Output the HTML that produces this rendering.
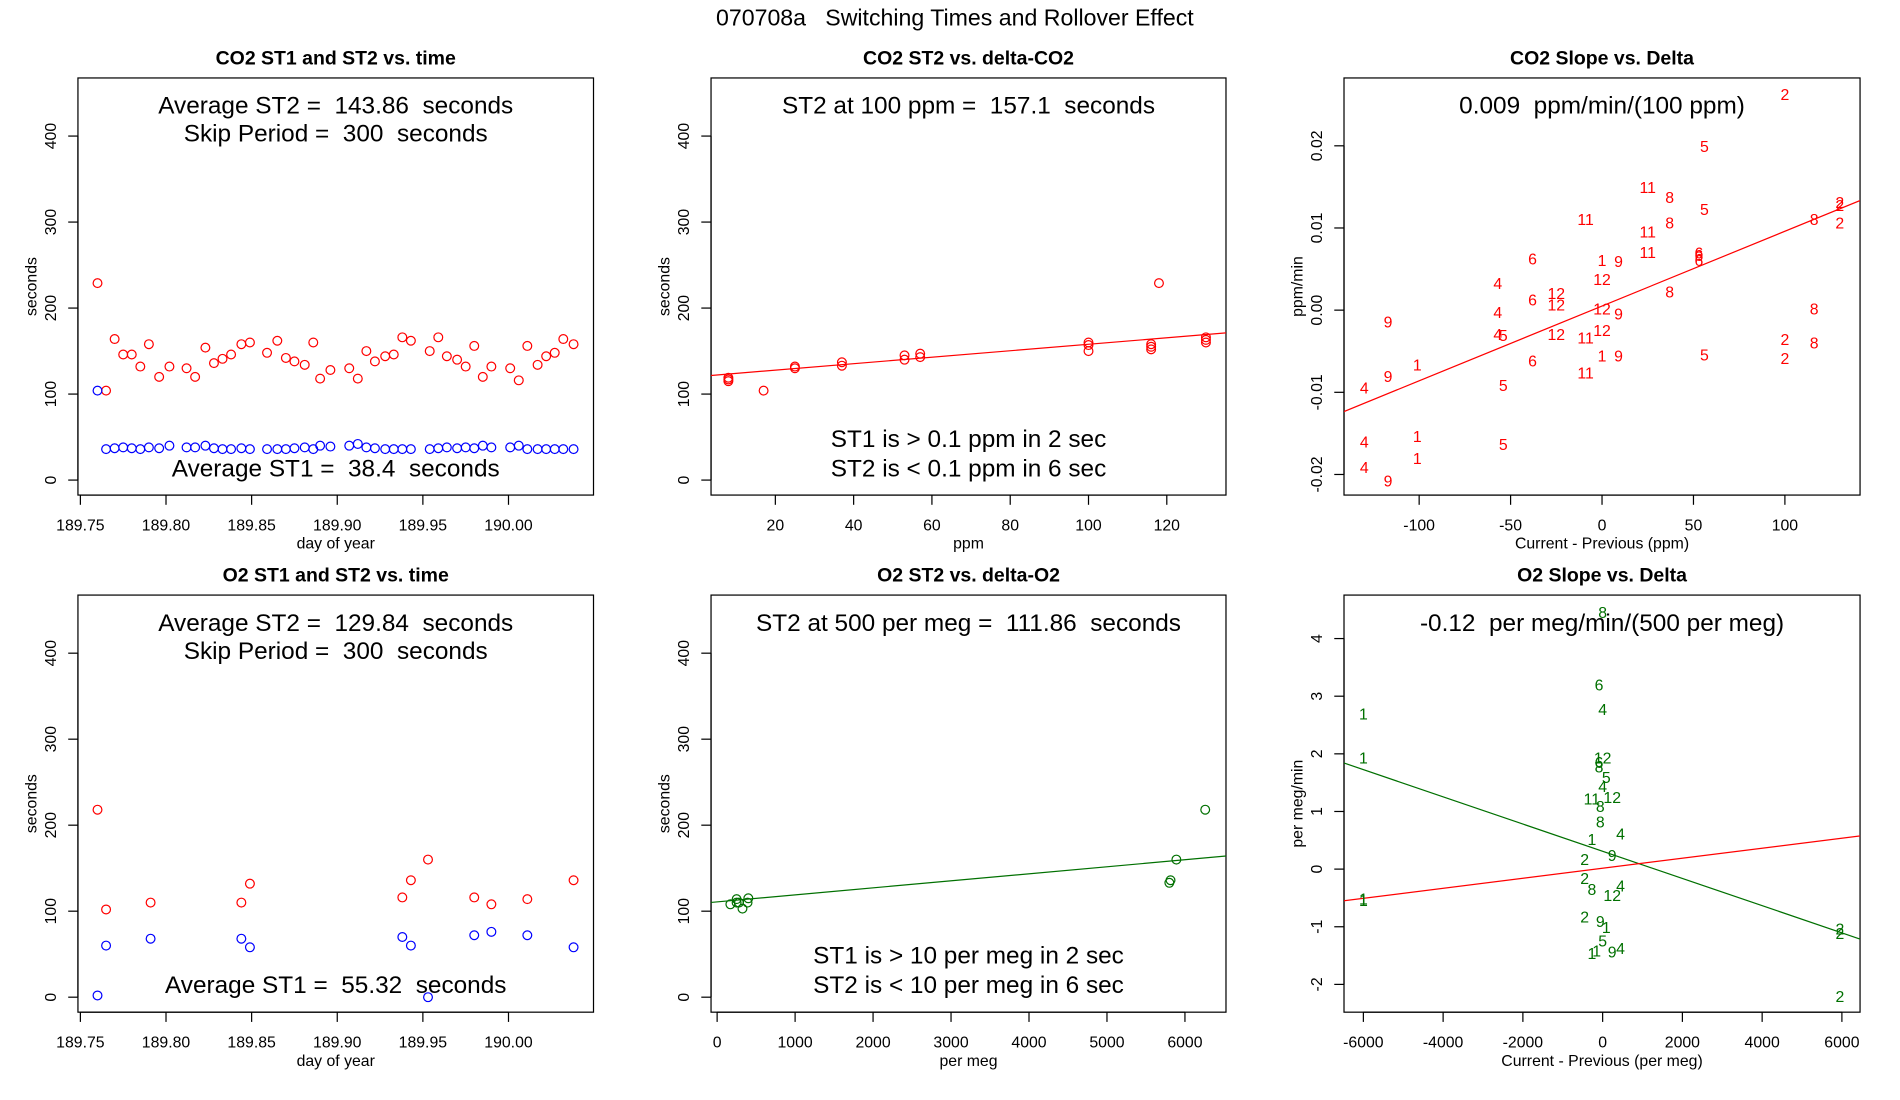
<!DOCTYPE html>
<html><head><meta charset="utf-8"><style>
html,body{margin:0;padding:0;background:#fff}
svg{display:block;font-family:"Liberation Sans",Arial,sans-serif}
</style></head><body>
<svg id="chart" width="1900" height="1100" viewBox="0 0 1560 903" preserveAspectRatio="none" xmlns="http://www.w3.org/2000/svg"></svg>
<script>
// ---- Data ----
const co2Days = [189.760,189.765,189.770,189.775,189.780,189.785,189.790,189.796,189.802,189.812,189.817,189.823,189.828,189.833,189.838,189.844,189.849,189.859,189.865,189.870,189.875,189.881,189.886,189.890,189.896,189.907,189.912,189.917,189.922,189.928,189.933,189.938,189.943,189.954,189.959,189.964,189.970,189.975,189.980,189.985,189.990,190.001,190.006,190.011,190.017,190.022,190.027,190.032,190.038];
const co2ST2 = [229,104,164,146,146,132,158,120,132,130,120,154,136,141,146,158,160,148,162,142,138,134,160,118,128,130,118,150,138,144,146,166,162,150,166,144,140,132,156,120,132,130,116,156,134,144,148,164,158];
const co2ST1 = [104,36,37,38,37,36,38,37,40,38,38,40,37,36,36,37,36,36,36,36,37,38,36,40,39,40,42,38,37,36,36,36,36,36,37,38,37,38,37,40,38,38,40,36,36,36,36,36,36];
const co2DeltaPpm = [8,8,8,17,25,25,37,37,53,53,57,57,100,100,100,116,116,116,118,130,130,130];
const co2DeltaST2 = [115,117,119,104,130,132,133,137,140,145,143,147,150,157,160,152,155,158,229,160,163,166];
const co2FitSlope = 0.376, co2FitIntercept = 120.3;
const co2SlopeLabels = ["2","5","11","8","5","11","8","11","2","2","8","2","11","6","6","6","6","1","9","12","4","12","6","12","8","12","9","4","8","12","9","4","5","12","11","2","8","2","6","1","9","5","11","1","9","5","4","1","4","5","1","4","9"];
const co2SlopeX = [100,56,25,37,56,-9,37,25,130,130,116,130,25,53,53,53,-38,0,9,0,-57,-25,-38,-25,37,0,9,-57,116,0,-117,-57,-54,-25,-9,100,116,100,-38,0,9,56,-9,-101,-117,-54,-130,-101,-130,-54,-101,-130,-117];
const co2SlopeY = [0.0263,0.020,0.0150,0.0138,0.0123,0.0111,0.0107,0.0096,0.0132,0.0128,0.0111,0.0107,0.0071,0.0070,0.0067,0.0061,0.0063,0.0061,0.0060,0.0038,0.0033,0.0021,0.0013,0.0007,0.0023,0.0002,-0.0004,-0.0002,0.0002,-0.0024,-0.0014,-0.0029,-0.0030,-0.0029,-0.0033,-0.0035,-0.0039,-0.0058,-0.0061,-0.0055,-0.0055,-0.0054,-0.0076,-0.0066,-0.0080,-0.0091,-0.0094,-0.0153,-0.0160,-0.0163,-0.0180,-0.0191,-0.0207];
const co2SlopeFitM = 0.000091, co2SlopeFitB = 0.0005;

const o2Days = [189.760,189.765,189.791,189.844,189.849,189.938,189.943,189.953,189.980,189.990,190.011,190.038];
const o2ST2 = [218,102,110,110,132,116,136,160,116,108,114,136];
const o2ST1 = [2,60,68,68,58,70,60,0,72,76,72,58];
const o2DeltaPm = [170,250,250,280,325,390,400,5800,5815,5890,6260];
const o2DeltaST2 = [108,110,114,110,103,110,115,133,136,160,218];
const o2FitSlope = 0.00817, o2FitIntercept = 110.8;
const o2SlopeLabels = ["8","6","4","1","1","12","6","8","5","4","11","12","8","8","4","1","2","9","2","8","4","12","2","9","1","5","4","9","1","1","2","2","2","1","1"];
const o2SlopeX = [0,-90,0,-6000,-6000,0,-90,-90,90,0,-270,240,-60,-60,450,-270,-450,240,-450,-270,450,240,-450,-60,90,0,450,240,-270,-150,5950,5950,5950,-6000,-6000];
const o2SlopeY = [4.46,3.2,2.78,2.7,1.94,1.94,1.86,1.78,1.6,1.44,1.23,1.25,1.1,0.83,0.62,0.52,0.18,0.25,-0.15,-0.34,-0.28,-0.45,-0.82,-0.9,-1.0,-1.24,-1.37,-1.43,-1.45,-1.41,-1.03,-1.11,-2.2,-0.53,-0.51];
const o2GreenM = -0.000236, o2GreenB = 0.31;
const o2RedM = 0.000087, o2RedB = 0.015;

const secTicks = [0,100,200,300,400];
const dayTicks = [189.75,189.80,189.85,189.90,189.95,190.00];
const ppmTicks = [20,40,60,80,100,120];
const co2SlopeXTicks = [-100,-50,0,50,100];
const co2SlopeYTicks = [-0.02,-0.01,0.00,0.01,0.02];
const pmTicks = [0,1000,2000,3000,4000,5000,6000];
const o2SlopeXTicks = [-6000,-4000,-2000,0,2000,4000,6000];
const o2SlopeYTicks = [-2,-1,0,1,2,3,4];

// ---- Rendering ----
const svg = document.getElementById('chart');
const NS = 'http://www.w3.org/2000/svg';
function mk(tag, attrs, parent, text){
  const e = document.createElementNS(NS, tag);
  for (const k in attrs) e.setAttribute(k, attrs[k]);
  if (text !== undefined) e.textContent = text;
  (parent || svg).appendChild(e);
  return e;
}
function lin(d0,d1,r0,r1){ return v => r0 + (v-d0)*(r1-r0)/(d1-d0); }
function fmt(v, dec){ return v.toFixed(dec); }

function panel(o){
  const g = mk('g', {});
  
  
  const sx = lin(o.xd[0], o.xd[1], o.xr[0], o.xr[1]);
  const sy = lin(o.yd[0], o.yd[1], o.yr[0], o.yr[1]);
  const t = mk('text', {x:(o.box[0]+o.box[2])/2, y:o.box[1]-11, 'text-anchor':'middle','font-size':16,'font-weight':'bold'}, g, o.title);
  
  
  const r = mk('rect', {x:o.box[0], y:o.box[1], width:o.box[2]-o.box[0], height:o.box[3]-o.box[1], fill:'none', stroke:'#000', 'stroke-width':1}, g);
  
  
  const ax = mk('g', {}, g);
  
  
  const ay0 = o.box[3];
  mk('line', {x1:sx(o.xt[0]), x2:sx(o.xt[o.xt.length-1]), y1:ay0, y2:ay0, stroke:'#000'}, ax);
  o.xt.forEach(v => {
    mk('line', {x1:sx(v), x2:sx(v), y1:ay0, y2:ay0+8, stroke:'#000'}, ax);
    const tl = mk('text', {x:sx(v), y:ay0+29, 'text-anchor':'middle','font-size':13}, ax, fmt(v, o.xdec));
    
    
  });
  const xl = mk('text', {x:(o.box[0]+o.box[2])/2, y:o.box[3]+44, 'text-anchor':'middle','font-size':13}, g, o.xlabel);
  
  
  const ayg = mk('g', {}, g);
  
  
  const ax0 = o.box[0];
  mk('line', {x1:ax0, x2:ax0, y1:sy(o.yt[0]), y2:sy(o.yt[o.yt.length-1]), stroke:'#000'}, ayg);
  o.yt.forEach(v => {
    mk('line', {x1:ax0-8, x2:ax0, y1:sy(v), y2:sy(v), stroke:'#000'}, ayg);
    const tx = ax0-18;
    const tl = mk('text', {x:tx, y:sy(v), 'text-anchor':'middle','font-size':13, transform:`rotate(-90 ${tx} ${sy(v)})`}, ayg, fmt(v, o.ydec));
    
    
  });
  const cy = (o.box[1]+o.box[3])/2;
  const lx = o.box[0]-34;
  const yl = mk('text', {x:lx, y:cy, 'text-anchor':'middle','font-size':13, transform:`rotate(-90 ${lx} ${cy})`}, g, o.ylabel);
  
  
  const cid = 'clip-' + o.name;
  const cp = mk('clipPath', {id:cid}, g);
  mk('rect', {x:o.box[0], y:o.box[1], width:o.box[2]-o.box[0], height:o.box[3]-o.box[1]}, cp);
  const plot = mk('g', {'clip-path':`url(#${cid})`}, g);
  (o.lines||[]).forEach(L => {
    const x0 = o.xd[0] - (o.xd[1]-o.xd[0]), x1 = o.xd[1] + (o.xd[1]-o.xd[0]);
    const l = mk('line', {x1:sx(x0), y1:sy(L.m*x0+L.b), x2:sx(x1), y2:sy(L.m*x1+L.b), stroke:L.c, 'stroke-width':1}, plot);
    
    
  });
  (o.series||[]).forEach(S => {
    S.x.forEach((xv, i) => {
      if (S.labels) {
        const p = mk('text', {x:sx(xv), y:sy(S.y[i])+5, 'text-anchor':'middle','font-size':13, fill:S.c}, plot, S.labels[i]);
        
        
      } else {
        const p = mk('circle', {cx:sx(xv), cy:sy(S.y[i]), r:3.6, fill:'none', stroke:S.c, 'stroke-width':1}, plot);
        
        
      }
    });
  });
  (o.notes||[]).forEach(n => {
    const tn = mk('text', {x:(o.box[0]+o.box[2])/2, y:n[0], 'text-anchor':'middle','font-size':20}, g, n[1]);
    tn.style.whiteSpace = 'pre';
    
    
  });
}

const mainTitle = mk('text', {x:784, y:21, 'text-anchor':'middle','font-size':19}, svg, '070708a   Switching Times and Rollover Effect');


mainTitle.style.whiteSpace = 'pre';

const TOP = [64,406.4], BOT = [488.5,830.9];
const secTop = [394.1, 111.7], secBot = [818.6, 536.2];
const C1 = [64,487.3], C2 = [583.8,1006.6], C3 = [1103.5,1527.2];
const RED = '#ff0000', BLUE = '#0000ff', GREEN = '#007000';

panel({name:'co2-time-panel', title:'CO2 ST1 and ST2 vs. time', box:[C1[0],TOP[0],C1[1],TOP[1]],
  xd:[189.75,190.00], xr:[66,417.5], yd:[0,400], yr:secTop, xt:dayTicks, xdec:2, yt:secTicks, ydec:0,
  xlabel:'day of year', ylabel:'seconds',
  series:[{x:co2Days,y:co2ST2,c:RED},{x:co2Days,y:co2ST1,c:BLUE}],
  notes:[[93,'Average ST2 =  143.86  seconds'],[116,'Skip Period =  300  seconds'],[391,'Average ST1 =  38.4  seconds']]});

panel({name:'co2-delta-panel', title:'CO2 ST2 vs. delta-CO2', box:[C2[0],TOP[0],C2[1],TOP[1]],
  xd:[20,120], xr:[636.6,958], yd:[0,400], yr:secTop, xt:ppmTicks, xdec:0, yt:secTicks, ydec:0,
  xlabel:'ppm', ylabel:'seconds',
  lines:[{m:co2FitSlope,b:co2FitIntercept,c:RED}],
  series:[{x:co2DeltaPpm,y:co2DeltaST2,c:RED}],
  notes:[[93,'ST2 at 100 ppm =  157.1  seconds'],[367,'ST1 is > 0.1 ppm in 2 sec'],[391,'ST2 is < 0.1 ppm in 6 sec']]});

panel({name:'co2-slope-panel', title:'CO2 Slope vs. Delta', box:[C3[0],TOP[0],C3[1],TOP[1]],
  xd:[-100,100], xr:[1165.2,1465.5], yd:[-0.02,0.02], yr:[389.5,119.7], xt:co2SlopeXTicks, xdec:0, yt:co2SlopeYTicks, ydec:2,
  xlabel:'Current - Previous (ppm)', ylabel:'ppm/min',
  lines:[{m:co2SlopeFitM,b:co2SlopeFitB,c:RED}],
  series:[{x:co2SlopeX,y:co2SlopeY,labels:co2SlopeLabels,c:RED}],
  notes:[[93,'0.009  ppm/min/(100 ppm)']]});

panel({name:'o2-time-panel', title:'O2 ST1 and ST2 vs. time', box:[C1[0],BOT[0],C1[1],BOT[1]],
  xd:[189.75,190.00], xr:[66,417.5], yd:[0,400], yr:secBot, xt:dayTicks, xdec:2, yt:secTicks, ydec:0,
  xlabel:'day of year', ylabel:'seconds',
  series:[{x:o2Days,y:o2ST2,c:RED},{x:o2Days,y:o2ST1,c:BLUE}],
  notes:[[518,'Average ST2 =  129.84  seconds'],[541,'Skip Period =  300  seconds'],[815,'Average ST1 =  55.32  seconds']]});

panel({name:'o2-delta-panel', title:'O2 ST2 vs. delta-O2', box:[C2[0],BOT[0],C2[1],BOT[1]],
  xd:[0,6000], xr:[588.8,972.9], yd:[0,400], yr:secBot, xt:pmTicks, xdec:0, yt:secTicks, ydec:0,
  xlabel:'per meg', ylabel:'seconds',
  lines:[{m:o2FitSlope,b:o2FitIntercept,c:GREEN}],
  series:[{x:o2DeltaPm,y:o2DeltaST2,c:GREEN}],
  notes:[[518,'ST2 at 500 per meg =  111.86  seconds'],[791,'ST1 is > 10 per meg in 2 sec'],[815,'ST2 is < 10 per meg in 6 sec']]});

panel({name:'o2-slope-panel', title:'O2 Slope vs. Delta', box:[C3[0],BOT[0],C3[1],BOT[1]],
  xd:[-6000,6000], xr:[1119.4,1512.3], yd:[-2,4], yr:[808.1,524.2], xt:o2SlopeXTicks, xdec:0, yt:o2SlopeYTicks, ydec:0,
  xlabel:'Current - Previous (per meg)', ylabel:'per meg/min',
  lines:[{m:o2GreenM,b:o2GreenB,c:GREEN},{m:o2RedM,b:o2RedB,c:RED}],
  series:[{x:o2SlopeX,y:o2SlopeY,labels:o2SlopeLabels,c:GREEN}],
  notes:[[518,'-0.12  per meg/min/(500 per meg)']]});
</script>
</body></html>
